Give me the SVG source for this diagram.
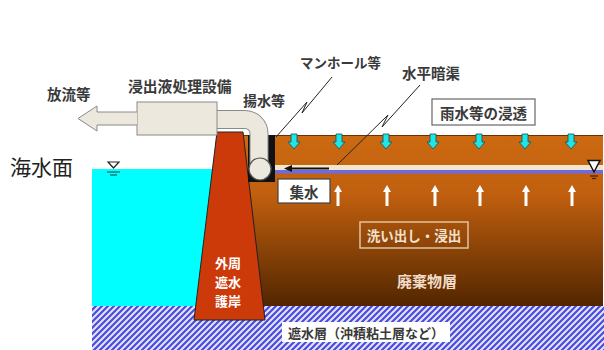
<svg xmlns="http://www.w3.org/2000/svg" width="604" height="350" viewBox="0 0 604 350">
  <style>
    text { font-family: "Noto Sans CJK JP", "Noto Sans", sans-serif; }
    .lbl { font-size: 14.5px; font-weight: 700; fill: #3a3a3a; dominant-baseline: central; }
    .mid { text-anchor: middle; }
    .rain line { stroke: #4f82e8; stroke-width: 2.4; stroke-dasharray: 6 7; stroke-linecap: round; }
    .leader { fill: none; stroke: #222; stroke-width: 1; }
    .down { fill: #1fe6e6; stroke: #1d4f55; stroke-width: 0.8; }
    .up { fill: #ffffff; }
    .pale { fill: #ece8de; stroke: #8a8a86; stroke-width: 1; }
    .tag { fill: #ffffff; stroke: #666; stroke-width: 1.2; }
    .wall { font-size: 13px; fill: #fff; }
  </style>
  <defs>
    <linearGradient id="wasteGrad" x1="0" y1="135" x2="0" y2="306" gradientUnits="userSpaceOnUse">
      <stop offset="0" stop-color="#cc6a12"/>
      <stop offset="0.35" stop-color="#c05f0e"/>
      <stop offset="1" stop-color="#522600"/>
    </linearGradient>
    <pattern id="hatch" width="6" height="6" patternUnits="userSpaceOnUse">
      <rect width="6" height="6" fill="#e4e4ff"/>
      <path d="M-1,7 L7,-1 M-4,4 L4,-4 M2,10 L10,2" stroke="#4b4bdc" stroke-width="2.2"/>
    </pattern>
    <g id="rainGroup">
      <line x1="0" y1="27" x2="18" y2="0"/>
      <line x1="16.5" y1="27" x2="34.5" y2="0"/>
      <line x1="33" y1="27" x2="51" y2="0"/>
    </g>
    <path id="downArrow" class="down" d="M-3,0 H3 V8 H6 L0,15 L-6,8 H-3 Z"/>
    <path id="upArrow" class="up" d="M0,0 L4,7 H1.5 V21 H-1.5 V7 H-4 Z"/>
  </defs>

  <!-- rainfall -->
  <g id="rain" class="rain">
    <use href="#rainGroup" x="167" y="21"/>
    <use href="#rainGroup" x="228" y="21"/>
    <use href="#rainGroup" x="290" y="21"/>
    <use href="#rainGroup" x="352" y="21"/>
    <use href="#rainGroup" x="417" y="21"/>
    <use href="#rainGroup" x="481" y="21"/>
    <use href="#rainGroup" x="543" y="21"/>
  </g>

  <!-- sea -->
  <g id="sea">
    <rect x="92" y="169" width="145" height="139" fill="#00ffff"/>
    <path d="M108,162 H119 L113.5,168 Z" fill="#fff" stroke="#222" stroke-width="1.2"/>
    <line x1="107" y1="172" x2="120" y2="172" stroke="#1a5a5a" stroke-width="1.2"/>
    <line x1="110" y1="175" x2="117" y2="175" stroke="#1a5a5a" stroke-width="1.2"/>
  </g>
  <text x="10" y="166" style="font-size:21px;fill:#222;dominant-baseline:central">海水面</text>

  <!-- waste layer -->
  <g id="waste-layer">
    <rect x="240" y="135" width="363" height="171" fill="url(#wasteGrad)"/>
    <line x1="240" y1="135.5" x2="603" y2="135.5" stroke="#6a3000" stroke-width="1"/>
  </g>

  <!-- impermeable clay layer -->
  <g id="barrier-layer">
    <rect x="92" y="306" width="512" height="44" fill="url(#hatch)"/>
    <rect x="282" y="322" width="168" height="20" fill="#fff"/>
    <text class="lbl mid" x="366" y="332" style="font-size:13px">遮水層（沖積粘土層など）</text>
  </g>

  <!-- seawall -->
  <g id="seawall">
    <path d="M217,132 H243 L265,320 H194 Z" fill="#cc3a0a" stroke="#222" stroke-width="1"/>
    <text class="lbl mid wall" x="228" y="262">外周</text>
    <text class="lbl mid wall" x="228" y="281">遮水</text>
    <text class="lbl mid wall" x="228" y="300">護岸</text>
  </g>

  <!-- manhole -->
  <g id="manhole">
    <rect x="248" y="135" width="27" height="47" fill="#111"/>
  </g>

  <!-- horizontal drain -->
  <g id="drain">
    <rect x="275" y="165" width="328" height="5" fill="#f3e6cc"/>
    <rect x="275" y="170" width="328" height="3.5" fill="#6b6be6"/>
    <path d="M588,160.5 H600 L594,172 Z" fill="#fff" stroke="#111" stroke-width="1.5"/>
    <line x1="590" y1="176" x2="598" y2="176" stroke="#4a2000" stroke-width="1.2"/>
    <line x1="592" y1="178.5" x2="596" y2="178.5" stroke="#4a2000" stroke-width="1.2"/>
  </g>

  <!-- pumping pipe -->
  <g id="pump-pipe">
    <path d="M210,119.5 H245 A14,14 0 0 1 259,133.5 V168" fill="none" stroke="#8a8a86" stroke-width="19"/>
    <path d="M210,119.5 H245 A14,14 0 0 1 259,133.5 V168" fill="none" stroke="#ece8de" stroke-width="17"/>
    <circle cx="260" cy="169" r="11" fill="#ece8de" stroke="#555" stroke-width="1.2"/>
  </g>

  <!-- leachate treatment facility and discharge -->
  <g id="treatment">
    <rect class="pale" x="137" y="102" width="80" height="33"/>
  </g>
  <g id="discharge">
    <path class="pale" d="M137,112 H97 V106 L78,118.5 L97,131 V125 H137"/>
  </g>

  <!-- labels -->
  <g id="labels">
    <text class="lbl" x="47" y="93">放流等</text>
    <text class="lbl" x="128" y="85" style="font-size:14.8px">浸出液処理設備</text>
    <text class="lbl" x="243" y="100" style="font-size:14px">揚水等</text>
    <text class="lbl" x="300" y="62" style="font-size:13.5px">マンホール等</text>
    <text class="lbl" x="402" y="72">水平暗渠</text>
  </g>

  <g id="infiltration">
    <rect class="tag" x="432" y="99" width="103" height="26"/>
    <text class="lbl mid" x="483.5" y="112">雨水等の浸透</text>
  </g>

  <g id="collection">
    <rect x="278" y="179" width="52" height="24" fill="#fff" stroke="#444" stroke-width="1.2"/>
    <text class="lbl mid" x="304" y="191">集水</text>
  </g>

  <g id="leaching">
    <rect x="360" y="222" width="108" height="26" fill="none" stroke="#e2c2a0" stroke-width="1.5"/>
    <text class="lbl mid" x="414" y="235" style="font-size:13.5px;fill:#f2e2d0">洗い出し・浸出</text>
  </g>

  <g id="waste-label">
    <text class="lbl mid" x="427" y="280" style="font-size:15px;fill:#f0dcc8">廃棄物層</text>
  </g>

  <!-- connectors: leaders and flow arrows -->
  <g id="connectors">
    <polyline class="leader" points="332,77 302,113 307,102 276,137"/>
    <polyline class="leader" points="420,85 382,127 388,115 337,165"/>
    <line x1="329" y1="168.5" x2="290" y2="168.5" stroke="#111" stroke-width="2"/>
    <path d="M284,168.5 L292,165 V172 Z" fill="#111"/>
    <use href="#downArrow" x="294" y="134"/>
    <use href="#downArrow" x="339" y="134"/>
    <use href="#downArrow" x="386" y="134"/>
    <use href="#downArrow" x="433" y="134"/>
    <use href="#downArrow" x="479" y="134"/>
    <use href="#downArrow" x="525" y="134"/>
    <use href="#downArrow" x="571" y="134"/>
    <use href="#upArrow" x="338" y="185"/>
    <use href="#upArrow" x="387" y="185"/>
    <use href="#upArrow" x="435" y="185"/>
    <use href="#upArrow" x="480" y="185"/>
    <use href="#upArrow" x="526" y="185"/>
    <use href="#upArrow" x="572" y="185"/>
  </g>
</svg>
